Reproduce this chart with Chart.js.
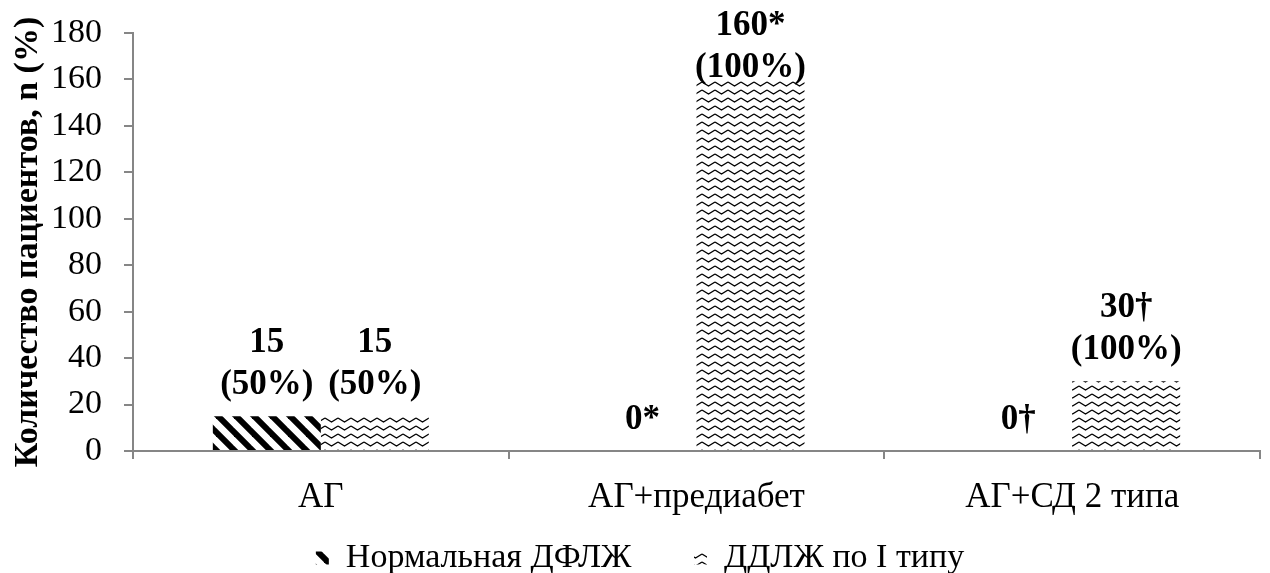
<!DOCTYPE html>
<html>
<head>
<meta charset="utf-8">
<script src="https://cdn.jsdelivr.net/npm/chart.js@4.4.1/dist/chart.umd.min.js"></script>
<style>
  html, body { margin: 0; padding: 0; background: #fff; }
  #wrap { width: 1270px; height: 573px; position: relative; }
</style>
</head>
<body>
<div id="wrap"><canvas id="chart" width="1270" height="573"></canvas></div>
<script>
// Patient groups along the x axis
const categories = ['АГ', 'АГ+предиабет', 'АГ+СД 2 типа'];
// Series names
const seriesNames = ['Нормальная ДФЛЖ', 'ДДЛЖ по I типу'];
// Number of patients per group
const normalDF = [15, 0, 0];
const diastolicType1 = [15, 160, 30];
// Value labels printed above each bar
const normalLabels = [['15', '(50%)'], ['0*'], ['0†']];
const type1Labels = [['15', '(50%)'], ['160*', '(100%)'], ['30†', '(100%)']];
// Y axis range
const yMin = 0, yMax = 180, yStep = 20;
const yTitle = 'Количество пациентов, n (%)';

const SERIF = '"Liberation Serif", "Times New Roman", serif';
const AXIS_GREY = '#868686';

// Thick "\" diagonal stripes
function stripePattern() {
  const s = 18;
  const c = document.createElement('canvas');
  c.width = s; c.height = s;
  const g = c.getContext('2d');
  g.fillStyle = '#fff'; g.fillRect(0, 0, s, s);
  g.strokeStyle = '#000'; g.lineWidth = 6; g.lineCap = 'square';
  for (let k = -1; k <= 1; k++) {
    g.beginPath();
    g.moveTo(k * s - 4, -4);
    g.lineTo(k * s + s + 4, s + 4);
    g.stroke();
  }
  return g.createPattern(c, 'repeat');
}

// Horizontal zigzag rows
function zigzagPattern() {
  const w = 13, h = 8;
  const c = document.createElement('canvas');
  c.width = w; c.height = h;
  const g = c.getContext('2d');
  g.fillStyle = '#fff'; g.fillRect(0, 0, w, h);
  g.strokeStyle = '#000'; g.lineWidth = 1.4;
  g.beginPath();
  g.moveTo(0, 2);
  g.lineTo(w / 2, 6);
  g.lineTo(w, 2);
  g.stroke();
  return g.createPattern(c, 'repeat');
}

const labelSets = [normalLabels, type1Labels];

// Draws the stacked value labels above the bars
const valueLabels = {
  id: 'valueLabels',
  afterDatasetsDraw(chart) {
    const ctx = chart.ctx;
    const lineH = 42;
    ctx.save();
    ctx.font = 'bold 35px ' + SERIF;
    ctx.fillStyle = '#000';
    ctx.textAlign = 'center';
    ctx.textBaseline = 'middle';
    chart.data.datasets.forEach((ds, di) => {
      const meta = chart.getDatasetMeta(di);
      meta.data.forEach((bar, i) => {
        const lines = labelSets[di][i];
        let first = bar.y - 31 - lineH * (lines.length - 1);
        if (first < 26) first = 26;
        lines.forEach((t, li) => ctx.fillText(t, bar.x, first + li * lineH));
      });
    });
    ctx.restore();
  }
};

new Chart(document.getElementById('chart'), {
  type: 'bar',
  data: {
    labels: categories,
    datasets: [
      { label: seriesNames[0], data: normalDF, backgroundColor: stripePattern(), borderWidth: 0 },
      { label: seriesNames[1], data: diastolicType1, backgroundColor: zigzagPattern(), borderWidth: 0 }
    ]
  },
  options: {
    responsive: false,
    animation: false,
    devicePixelRatio: 1,
    layout: { padding: { top: 24, right: 10, left: 20, bottom: -12 } },
    datasets: { bar: { categoryPercentage: 0.575, barPercentage: 1.0 } },
    plugins: {
      tooltip: { enabled: false },
      legend: {
        position: 'bottom',
        labels: {
          font: { family: SERIF, size: 34 },
          color: '#000',
          boxWidth: 13,
          boxHeight: 13,
          padding: 20,
          generateLabels(chart) {
            const items = Chart.defaults.plugins.legend.labels.generateLabels(chart);
            items[0].text = items[0].text + '     ';
            return items;
          }
        }
      }
    },
    scales: {
      x: {
        offset: true,
        grid: { offset: true, drawOnChartArea: false, color: AXIS_GREY, tickLength: 8, lineWidth: 2 },
        border: { color: AXIS_GREY, width: 2 },
        ticks: { font: { family: SERIF, size: 35 }, color: '#000', padding: 18 },
        afterFit(s) { s.height = 70; }
      },
      y: {
        min: yMin, max: yMax,
        grid: { drawOnChartArea: false, color: AXIS_GREY, tickLength: 9, lineWidth: 2 },
        border: { color: AXIS_GREY, width: 2 },
        ticks: { stepSize: yStep, font: { family: SERIF, size: 34, lineHeight: 0.65 }, color: '#000', padding: 22 },
        title: { display: true, text: yTitle, font: { family: SERIF, size: 34, weight: 'bold' }, color: '#000', padding: { top: -12, bottom: 0 } },
        afterFit(s) { s.width = 113; }
      }
    }
  },
  plugins: [valueLabels]
});
</script>
</body>
</html>
